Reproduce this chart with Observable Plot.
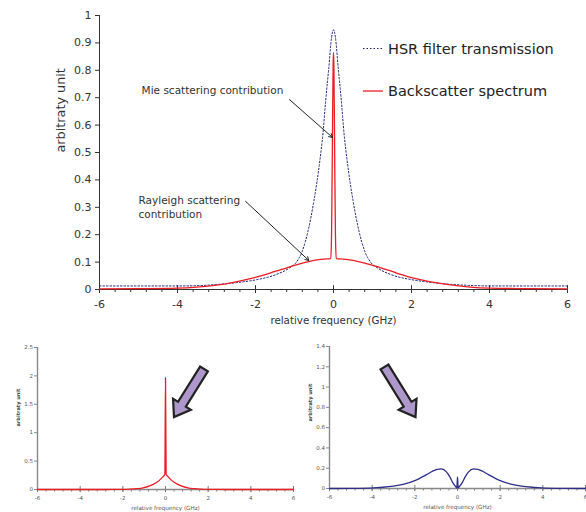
<!DOCTYPE html>
<html><head><meta charset="utf-8">
<script src="https://cdn.jsdelivr.net/npm/d3@7"></script>
<script src="https://cdn.jsdelivr.net/npm/@observablehq/plot@0.6"></script>
<style>
html,body{margin:0;padding:0;background:#fff;}
#wrap{position:relative;width:586px;height:512px;overflow:hidden;font-family:"DejaVu Sans",sans-serif;}
#wrap svg{position:absolute;}
</style></head><body><div id="wrap"></div>
<script>
// ---------- data ----------
const filterFreq = [-6, -5, -4, -3.5, -3, -2.5, -2, -1.5, -1.15, -0.95, -0.8, -0.65, -0.5, -0.35, -0.27, -0.2, -0.12, -0.05, 0, 0.05, 0.12, 0.2, 0.27, 0.35, 0.5, 0.65, 0.8, 0.95, 1.15, 1.5, 2, 2.5, 3, 3.5, 4, 5, 6];
const filterVal  = [0.013, 0.013, 0.013, 0.014, 0.018, 0.025, 0.035, 0.053, 0.077, 0.1, 0.14, 0.215, 0.325, 0.47, 0.57, 0.69, 0.81, 0.92, 0.948, 0.92, 0.81, 0.69, 0.57, 0.47, 0.325, 0.215, 0.14, 0.1, 0.077, 0.053, 0.036, 0.026, 0.019, 0.015, 0.013, 0.013, 0.013];

const backFreq = [-6, -5, -4, -3.5, -3, -2.5, -2, -1.75, -1.5, -1.2, -1, -0.75, -0.5, -0.25, -0.07, -0.05, -0.03, -0.01, 0, 0.01, 0.03, 0.05, 0.07, 0.25, 0.5, 0.75, 1, 1.2, 1.5, 1.75, 2, 2.5, 3, 3.5, 4, 5, 6];
const backVal  = [0.002, 0.003, 0.005, 0.009, 0.016, 0.028, 0.044, 0.054, 0.066, 0.079, 0.088, 0.098, 0.106, 0.111, 0.113, 0.2, 0.5, 0.82, 0.865, 0.82, 0.5, 0.2, 0.113, 0.111, 0.106, 0.098, 0.088, 0.08, 0.066, 0.054, 0.043, 0.028, 0.017, 0.009, 0.005, 0.003, 0.002];

const leftFreq = [-6, -3, -2.5, -2, -1.67, -1.36, -1.05, -0.74, -0.42, -0.19, -0.11, -0.03, 0, 0.03, 0.11, 0.19, 0.42, 0.74, 1.05, 1.36, 1.67, 2, 2.5, 3, 6];
const leftVal  = [0, 0, 0.001, 0.003, 0.007, 0.015, 0.03, 0.065, 0.124, 0.195, 0.23, 0.27, 1.97, 0.27, 0.23, 0.195, 0.124, 0.065, 0.03, 0.015, 0.007, 0.003, 0.001, 0, 0];

const rightFreq = [-6, -5, -4.1, -3.64, -3, -2.55, -2, -1.45, -1.14, -0.95, -0.75, -0.52, -0.36, -0.2, -0.1, -0.03, 0, 0.03, 0.1, 0.2, 0.36, 0.52, 0.75, 0.95, 1.14, 1.45, 2, 2.55, 3, 3.64, 4.1, 5, 6];
const rightVal  = [0, 0.001, 0.003, 0.01, 0.023, 0.04, 0.078, 0.137, 0.173, 0.188, 0.193, 0.164, 0.115, 0.05, 0.022, 0.003, 0.115, 0.003, 0.022, 0.05, 0.115, 0.164, 0.193, 0.188, 0.173, 0.137, 0.078, 0.04, 0.023, 0.01, 0.003, 0.001, 0];

const xTicks = [-6, -4, -2, 0, 2, 4, 6];
const mainYTicks = [0, 0.1, 0.2, 0.3, 0.4, 0.5, 0.6, 0.7, 0.8, 0.9, 1];
const leftYTicks = [0, 0.5, 1, 1.5, 2, 2.5];
const rightYTicks = [0, 0.2, 0.4, 0.6, 0.8, 1, 1.2, 1.4];
const minorXTicks = d3.range(0, 31).map(i => Math.round((-6 + 0.4 * i) * 10) / 10);

const seriesNames = ["HSR filter transmission", "Backscatter spectrum"];
const xLabel = "relative frequency (GHz)";
const yLabel = "arbitraty unit";

// ---------- helpers ----------
const zip = (xs, ys) => xs.map((x, i) => ({x, y: ys[i]}));
const fmt = d => String(d);
const RED = "#ec1c24", NAVY = "#1c1c78", SBLUE = "#2e2e8a";
const wrap = document.getElementById("wrap");
function place(svg, left, top) { svg.style.left = left + "px"; svg.style.top = top + "px"; wrap.appendChild(svg); }

// ---------- main chart ----------
const main = Plot.plot({
  width: 586, height: 335,
  marginTop: 15, marginLeft: 99, marginRight: 19, marginBottom: 46,
  style: {background: "transparent", fontFamily: "DejaVu Sans", fontSize: "11px", color: "#333"},
  x: {domain: [-6, 6]},
  y: {domain: [0, 1]},
  marks: [
    Plot.axisY({ticks: mainYTicks, tickSize: 4, tickPadding: 4, tickFormat: fmt, label: null, stroke: "#333", fill: "#333"}),
    Plot.axisX({ticks: minorXTicks, tickSize: 3, text: null, label: null, stroke: "#333"}),
    Plot.axisX({ticks: xTicks, tickSize: 4, tickPadding: 7, tickFormat: fmt, label: null, stroke: "#333", fill: "#333"}),
    Plot.ruleX(xTicks, {y1: 0, y2: 0.014, stroke: "#333"}),
    Plot.ruleY([0], {stroke: "#333"}),
    Plot.ruleX([-6], {stroke: "#333"}),
    Plot.line(zip(filterFreq, filterVal), {x: "x", y: "y", stroke: NAVY, strokeWidth: 1, strokeDasharray: "1.5,2", curve: "monotone-x"}),
    Plot.line(zip(backFreq, backVal), {x: "x", y: "y", stroke: RED, strokeWidth: 1.3, curve: "monotone-x"}),
    Plot.text([xLabel], {text: d => d, frameAnchor: "bottom", dy: 34, fontSize: 10.3, fill: "#333"}),
    Plot.text([yLabel], {text: d => d, frameAnchor: "left", rotate: -90, dx: -39, fontSize: 12.8, fill: "#333"}),
    Plot.text(["Mie scattering contribution"], {text: d => d, x: -4.92, y: 0.726, textAnchor: "start", fontSize: 10.5, fill: "#333"}),
    Plot.text(["Rayleigh scattering"], {text: d => d, x: -5.0, y: 0.325, textAnchor: "start", fontSize: 10.5, fill: "#333"}),
    Plot.text(["contribution"], {text: d => d, x: -5.0, y: 0.273, textAnchor: "start", fontSize: 10.5, fill: "#333"}),
    Plot.arrow([{x1: -1.128, y1: 0.693, x2: -0.026, y2: 0.555}], {x1: "x1", y1: "y1", x2: "x2", y2: "y2", stroke: "#222", strokeWidth: 1, headLength: 6}),
    Plot.arrow([{x1: -2.256, y1: 0.322, x2: -0.633, y2: 0.106}], {x1: "x1", y1: "y1", x2: "x2", y2: "y2", stroke: "#222", strokeWidth: 1, headLength: 6})
  ]
});
place(main, 0, 0);

// ---------- small charts ----------
function small(freq, vals, color, yMax, yTicks, mTop, mBottom, mLeft, mRight, width, yLabDy) {
  return Plot.plot({
    width, height: 182,
    marginTop: mTop, marginBottom: mBottom, marginLeft: mLeft, marginRight: mRight,
    style: {background: "transparent", fontFamily: "DejaVu Sans", fontSize: "5.5px", color: "#555"},
    x: {domain: [-6, 6]},
    y: {domain: [0, yMax]},
    marks: [
      Plot.axisY({ticks: yTicks, tickSize: 3, tickPadding: 1.5, tickFormat: fmt, label: null, stroke: "#888", fill: "#555"}),
      Plot.axisX({ticks: minorXTicks, tickSize: 2.5, text: null, label: null, stroke: "#777"}),
      Plot.axisX({ticks: xTicks, tickSize: 3, tickPadding: 4, tickFormat: fmt, label: null, stroke: "#777", fill: "#555"}),
      Plot.ruleX(xTicks, {y1: 0, y2: yMax * 3 / 142, stroke: "#777"}),
      Plot.ruleX([-6], {stroke: "#888", strokeWidth: 1.4}),
      Plot.ruleY([0], {stroke: "#888", strokeWidth: 1.4}),
      Plot.line(zip(freq, vals), {x: "x", y: "y", stroke: color, strokeWidth: 1.3, curve: "monotone-x"}),
      Plot.text([xLabel], {text: d => d, frameAnchor: "bottom", dy: 20, fontSize: 5.6, fill: "#555"}),
      Plot.text([yLabel], {text: d => d, frameAnchor: "left", rotate: -90, dx: -19, dy: yLabDy, fontSize: 5, fontWeight: "bold", fill: "#444"})
    ]
  });
}
const leftChart = small(leftFreq, leftVal, RED, 2.5, leftYTicks, 17, 23, 37, 7, 300, 8);
place(leftChart, 0, 330);
const rightChart = small(rightFreq, rightVal, SBLUE, 1.4, rightYTicks, 16, 24, 39, 1, 296, 4);
place(rightChart, 290, 330);

// ---------- overlay: legend and decorative block arrows ----------
const ov = d3.create("svg").attr("width", 586).attr("height", 512).style("left", "0px").style("top", "0px")
  .style("pointer-events", "none");
const legendRows = [
  {name: seriesNames[0], y: 48.5, stroke: NAVY, dash: "1.5,2", w: 1},
  {name: seriesNames[1], y: 91, stroke: RED, dash: null, w: 1.3}
];
for (const r of legendRows) {
  ov.append("line").attr("x1", 363).attr("x2", 383).attr("y1", r.y).attr("y2", r.y)
    .attr("stroke", r.stroke).attr("stroke-width", r.w).attr("stroke-dasharray", r.dash);
  ov.append("text").attr("x", 388).attr("y", r.y).attr("dominant-baseline", "central")
    .attr("font-family", "DejaVu Sans").attr("font-size", 14.5).attr("fill", "#222").text(r.name);
}
function blockArrow(tx, ty, hx, hy) {
  const dx = hx - tx, dy = hy - ty, len = Math.hypot(dx, dy);
  const ux = dx / len, uy = dy / len, nx = -uy, ny = ux;
  const w = 4.6, W = 10.5, L = 15;
  const kx = hx - ux * L, ky = hy - uy * L;
  const pts = [
    [tx + nx * w, ty + ny * w], [kx + nx * w, ky + ny * w], [kx + nx * W, ky + ny * W],
    [hx, hy],
    [kx - nx * W, ky - ny * W], [kx - nx * w, ky - ny * w], [tx - nx * w, ty - ny * w]
  ];
  ov.append("polygon").attr("points", pts.map(p => p.join(",")).join(" "))
    .attr("fill", "#ad97cb").attr("stroke", "#222").attr("stroke-width", 2.2).attr("stroke-linejoin", "miter");
}
blockArrow(204, 369, 174, 417);
blockArrow(384.5, 367, 415.5, 417);
wrap.appendChild(ov.node());
</script></body></html>
